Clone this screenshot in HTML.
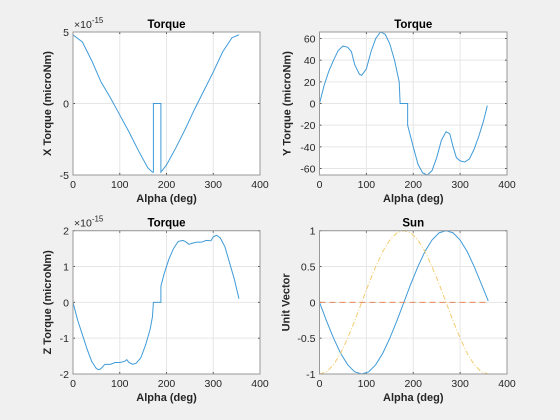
<!DOCTYPE html>
<html><head><meta charset="utf-8"><style>
html,body{margin:0;padding:0;background:#f0f0f0;}
svg{display:block;font-family:"Liberation Sans",Arial,sans-serif;}
</style></head><body>
<svg id="fig" width="560" height="420" viewBox="0 0 560 420" xmlns="http://www.w3.org/2000/svg">
<rect x="0" y="0" width="560" height="420" fill="#f0f0f0"/>
</svg>
<script>
const xTicks=[0,100,200,300,400];
const xtAlpha=[0,20,40,60,80,100,120,140,160,170,172,172,188,188,200,220,240,260,280,300,320,340,355];
const xtVals=[4.8,4.3,3.0,1.5,0.4,-0.8,-2.0,-3.3,-4.5,-4.8,-4.8,0,0,-4.8,-4.3,-3.1,-1.8,-0.4,0.9,2.2,3.6,4.6,4.8];
const ytAlpha=[0,10,20,30,40,50,60,68,75,85,90,100,110,120,130,140,150,160,170,172,188,188,200,210,220,230,240,250,260,270,278,285,292,300,310,320,330,340,350,358];
const ytVals=[0,17,30,40,49,53,52,48,36,27,26,32,48,60,66,64,55,40,20,0,0,-20,-40,-56,-64,-66,-62,-50,-34,-26,-28,-40,-50,-53,-54,-51,-42,-30,-16,-2];
const ztAlpha=[0,10,20,30,40,50,55,60,68,80,90,100,110,115,120,128,135,145,155,165,170,172,188,188,195,205,215,225,235,240,248,255,265,275,285,295,300,307,315,325,335,345,355];
const ztVals=[0,-0.5,-0.9,-1.3,-1.65,-1.85,-1.88,-1.85,-1.73,-1.73,-1.68,-1.68,-1.65,-1.6,-1.68,-1.73,-1.7,-1.55,-1.2,-0.75,-0.4,0,0,0.45,0.8,1.2,1.5,1.7,1.73,1.7,1.62,1.65,1.68,1.68,1.73,1.72,1.83,1.87,1.8,1.55,1.1,0.65,0.1];
const sunAlpha=[0,15,30,45,60,75,90,105,120,135,150,165,180,195,210,225,240,255,270,285,300,315,330,345,360];
const sunX=[0,-0.26,-0.5,-0.71,-0.87,-0.97,-1,-0.97,-0.87,-0.71,-0.5,-0.26,0,0.26,0.5,0.71,0.87,0.97,1,0.97,0.87,0.71,0.5,0.26,0.02];
const sunY=[0,0,0,0,0,0,0,0,0,0,0,0,0,0,0,0,0,0,0,0,0,0,0,0,0];
const sunZ=[-1,-0.97,-0.87,-0.71,-0.5,-0.26,0,0.26,0.5,0.71,0.87,0.97,1,0.97,0.87,0.71,0.5,0.26,0,-0.26,-0.5,-0.71,-0.87,-0.97,-1];

const NS="http://www.w3.org/2000/svg";
const fig=document.getElementById('fig');
function mk(tag,attrs,parent,text){const e=document.createElementNS(NS,tag);for(const k in attrs)e.setAttribute(k,attrs[k]);if(text!==undefined)e.textContent=text;(parent||fig).appendChild(e);return e;}

function axes(o){
  const g=mk('g',{});
  
  
  const sx=v=>o.x0+(v-0)/(400-0)*(o.x1-o.x0);
  const sy=v=>o.y1-(v-o.ymin)/(o.ymax-o.ymin)*(o.y1-o.y0);
  mk('rect',{x:o.x0,y:o.y0,width:o.x1-o.x0,height:o.y1-o.y0,fill:'#fff'},g);
  xTicks.forEach(t=>{const x=sx(t);
    const gl=mk('line',{x1:x,x2:x,y1:o.y0,y2:o.y1,stroke:'#e6e6e6','stroke-width':1},g);
    
    mk('line',{x1:x,x2:x,y1:o.y1,y2:o.y1-2,stroke:'#555'},g);
    mk('line',{x1:x,x2:x,y1:o.y0,y2:o.y0+2,stroke:'#555'},g);
    const tl=mk('text',{x:x,y:o.y1+13,'font-size':10.5,'text-anchor':'middle',fill:'#262626'},g,String(t));
    
  });
  o.yTicks.forEach((t,i)=>{const y=sy(t);
    const gl=mk('line',{x1:o.x0,x2:o.x1,y1:y,y2:y,stroke:'#e6e6e6','stroke-width':1},g);
    
    mk('line',{x1:o.x0,x2:o.x0+2,y1:y,y2:y,stroke:'#555'},g);
    mk('line',{x1:o.x1,x2:o.x1-2,y1:y,y2:y,stroke:'#555'},g);
    const tl=mk('text',{x:o.x0-4,y:y+4,'font-size':10.5,'text-anchor':'end',fill:'#262626'},g,o.yLabels[i]);
    
  });
  const clip='c'+o.name;
  const cp=mk('clipPath',{id:clip},g);mk('rect',{x:o.x0,y:o.y0-1,width:o.x1-o.x0,height:o.y1-o.y0+2},cp);
  o.series.forEach(s=>{
    const d=s.a.map((a,i)=>(i?'L':'M')+sx(a).toFixed(2)+','+sy(s.v[i]).toFixed(2)).join(' ');
    const p=mk('path',{d:d,fill:'none',stroke:s.c,'stroke-width':1,'clip-path':'url(#'+clip+')'},g);
    if(s.dash)p.setAttribute('stroke-dasharray',s.dash);
    
    
  });
  mk('rect',{x:o.x0,y:o.y0,width:o.x1-o.x0,height:o.y1-o.y0,fill:'none',stroke:'#999','stroke-width':1},g);
  const ti=mk('text',{x:(o.x0+o.x1)/2,y:o.y0-4,'font-size':11.5,'font-weight':'bold','text-anchor':'middle',fill:'#000'},g,o.title);
  
  const xl=mk('text',{x:(o.x0+o.x1)/2,y:o.y1+27,'font-size':11,'font-weight':'bold','text-anchor':'middle',fill:'#262626'},g,'Alpha (deg)');
  
  const yx=o.x0-o.ylOff, yc=(o.y0+o.y1)/2;
  const yl=mk('text',{x:yx,y:yc,'font-size':11,'font-weight':'bold','text-anchor':'middle',fill:'#262626',transform:'rotate(-90 '+yx+' '+yc+')'},g,o.ylabel);
  
  if(o.exp){
    const ex=mk('text',{x:o.x0+1,y:o.y0-4,'font-size':10.5,fill:'#262626'},g);
    
    mk('tspan',{},ex,'\u00d710');
    mk('tspan',{dy:-5,'font-size':8},ex,'-15');
  }
}
const BLUE='#3f9bd8',ORANGE='#e8875c',YELLOW='#f3cc6e';
axes({name:'x-torque-axes',x0:73,x1:260,y0:32,y1:175,ymin:-5,ymax:5,yTicks:[-5,0,5],yLabels:['-5','0','5'],title:'Torque',ylabel:'X Torque (microNm)',ylOff:22,exp:true,
  series:[{a:xtAlpha,v:xtVals,c:BLUE,name:'x-torque-line'}]});
axes({name:'y-torque-axes',x0:319.5,x1:507,y0:32,y1:175,ymin:-66,ymax:66,yTicks:[-60,-40,-20,0,20,40,60],yLabels:['-60','-40','-20','0','20','40','60'],title:'Torque',ylabel:'Y Torque (microNm)',ylOff:29,
  series:[{a:ytAlpha,v:ytVals,c:BLUE,name:'y-torque-line'}]});
axes({name:'z-torque-axes',x0:73,x1:260,y0:230.7,y1:374,ymin:-2,ymax:2,yTicks:[-2,-1,0,1,2],yLabels:['-2','-1','0','1','2'],title:'Torque',ylabel:'Z Torque (microNm)',ylOff:22,exp:true,
  series:[{a:ztAlpha,v:ztVals,c:BLUE,name:'z-torque-line'}]});
axes({name:'sun-axes',x0:319.5,x1:507,y0:230.7,y1:374,ymin:-1,ymax:1,yTicks:[-1,-0.5,0,0.5,1],yLabels:['-1','-0.5','0','0.5','1'],title:'Sun',ylabel:'Unit Vector',ylOff:30,
  series:[{a:sunAlpha,v:sunX,c:BLUE,name:'sun-x-line'},{a:sunAlpha,v:sunY,c:ORANGE,dash:'6 4',name:'sun-y-line'},{a:sunAlpha,v:sunZ,c:YELLOW,dash:'5 2 1 2',name:'sun-z-line'}]});
</script>
</body></html>
